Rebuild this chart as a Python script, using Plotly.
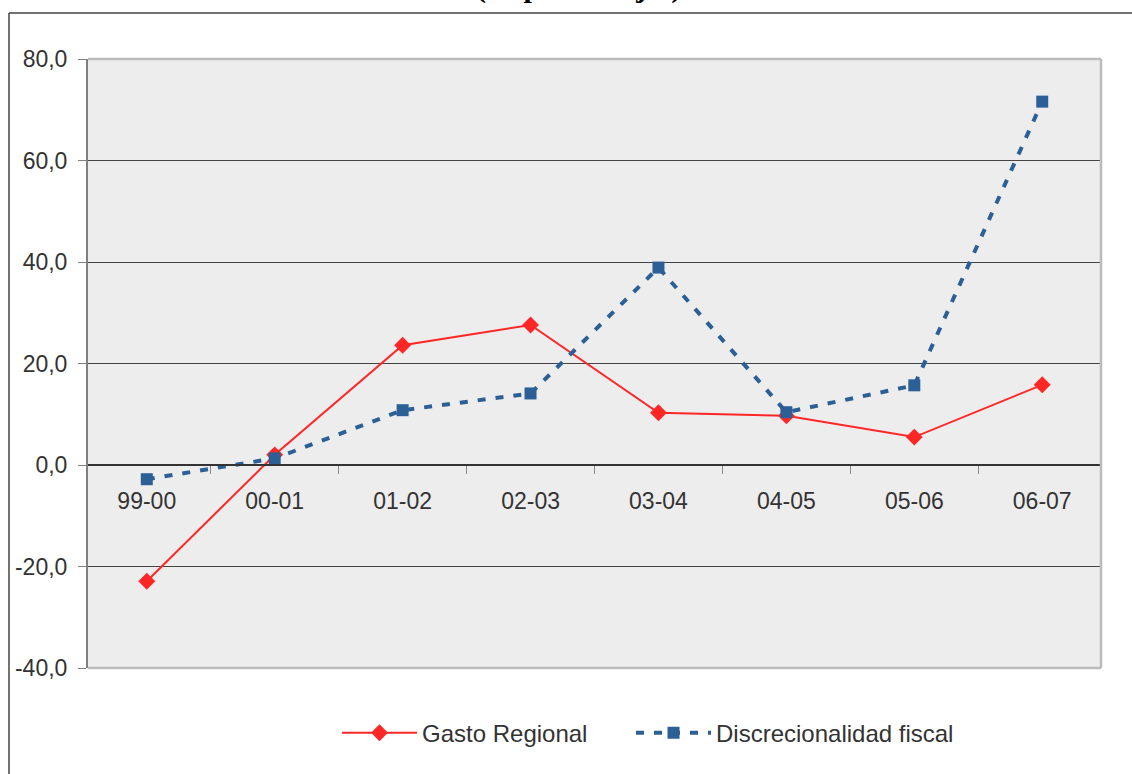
import plotly.graph_objects as go

# Periodos (años fiscales)
periodos = ["99-00", "00-01", "01-02", "02-03", "03-04", "04-05", "05-06", "06-07"]

# Tasas de variación (%)
gasto_regional = [-22.9, 2.0, 23.6, 27.6, 10.3, 9.7, 5.5, 15.8]
discrecionalidad_fiscal = [-2.8, 1.3, 10.8, 14.1, 38.9, 10.4, 15.7, 71.6]

y_ticks = [-40, -20, 0, 20, 40, 60, 80]
y_ticktext = [f"{v:.1f}".replace(".", ",") for v in y_ticks]

RED = "#FF2626"
BLUE = "#2C5F96"
TXT = "#333333"
FONT = "Arial, Liberation Sans, sans-serif"

fig = go.Figure()

fig.add_trace(go.Scatter(
    x=periodos, y=gasto_regional, name="Gasto Regional",
    mode="lines+markers",
    line=dict(color=RED, width=2),
    marker=dict(symbol="diamond", size=13, color=RED),
    legend="legend",
))

fig.add_trace(go.Scatter(
    x=periodos, y=discrecionalidad_fiscal, name="Discrecionalidad fiscal",
    mode="lines+markers",
    line=dict(color=BLUE, width=4, dash="8px,10px"),
    marker=dict(symbol="square", size=12, color=BLUE),
    legend="legend2",
))

y_min, y_max = -40, 80
zero_pos = (0 - y_min) / (y_max - y_min)

legend_common = dict(
    orientation="h", xanchor="left", y=-0.107, yanchor="middle",
    font=dict(family=FONT, size=24, color=TXT),
    itemwidth=75, bgcolor="rgba(0,0,0,0)",
)

fig.update_layout(
    width=1132, height=774,
    margin=dict(l=88, r=31, t=59, b=106),
    paper_bgcolor="white",
    plot_bgcolor="#EDEDED",
    font=dict(family=FONT, size=23, color=TXT),
    showlegend=True,
    legend=dict(x=(337 - 88) / 1013, **legend_common),
    legend2=dict(x=(631 - 88) / 1013, **legend_common),
    xaxis=dict(
        type="category",
        anchor="free", position=zero_pos,
        showline=True, linecolor="#333333", linewidth=1.5,
        ticks="outside", tickson="boundaries", ticklen=8, tickcolor="#888888",
        ticklabelstandoff=16,
        showgrid=False, zeroline=False,
        tickfont=dict(family=FONT, size=23, color=TXT),
    ),
    yaxis=dict(
        range=[y_min, y_max],
        tickvals=y_ticks, ticktext=y_ticktext,
        showgrid=True, gridcolor="#444444", gridwidth=1,
        zeroline=False,
        showline=True, linecolor="#808080", linewidth=2,
        ticks="outside", ticklen=8, tickcolor="#808080",
        ticklabelstandoff=6,
        tickfont=dict(family=FONT, size=23, color=TXT),
    ),
    shapes=[
        # borde del área de trazado
        dict(type="line", xref="paper", yref="paper", x0=0, x1=1, y0=1, y1=1,
             line=dict(color="#BBBBBB", width=2.5), layer="above"),
        dict(type="line", xref="paper", yref="paper", x0=1, x1=1, y0=0, y1=1,
             line=dict(color="#BBBBBB", width=2.5), layer="above"),
        dict(type="line", xref="paper", yref="paper", x0=0, x1=1, y0=0, y1=0,
             line=dict(color="#BBBBBB", width=2.5), layer="above"),
        # marco exterior del gráfico
        dict(type="line", xref="paper", yref="paper",
             x0=(9 - 88) / 1013, x1=1.2, y0=(668 - 13) / 609, y1=(668 - 13) / 609,
             line=dict(color="#444444", width=1.5)),
        dict(type="line", xref="paper", yref="paper",
             x0=(9 - 88) / 1013, x1=(9 - 88) / 1013, y0=(668 - 13) / 609, y1=-0.3,
             line=dict(color="#444444", width=1.5)),
    ],
    annotations=[
        dict(text="<b>(en porcentajes)</b>", xref="paper", yref="paper",
             x=(578 - 88) / 1013, y=(668 + 13) / 609, xanchor="center", yanchor="middle",
             showarrow=False,
             font=dict(family="Liberation Serif, Times New Roman, serif", size=30, color="#000000")),
    ],
)

fig.write_html("out.html")
